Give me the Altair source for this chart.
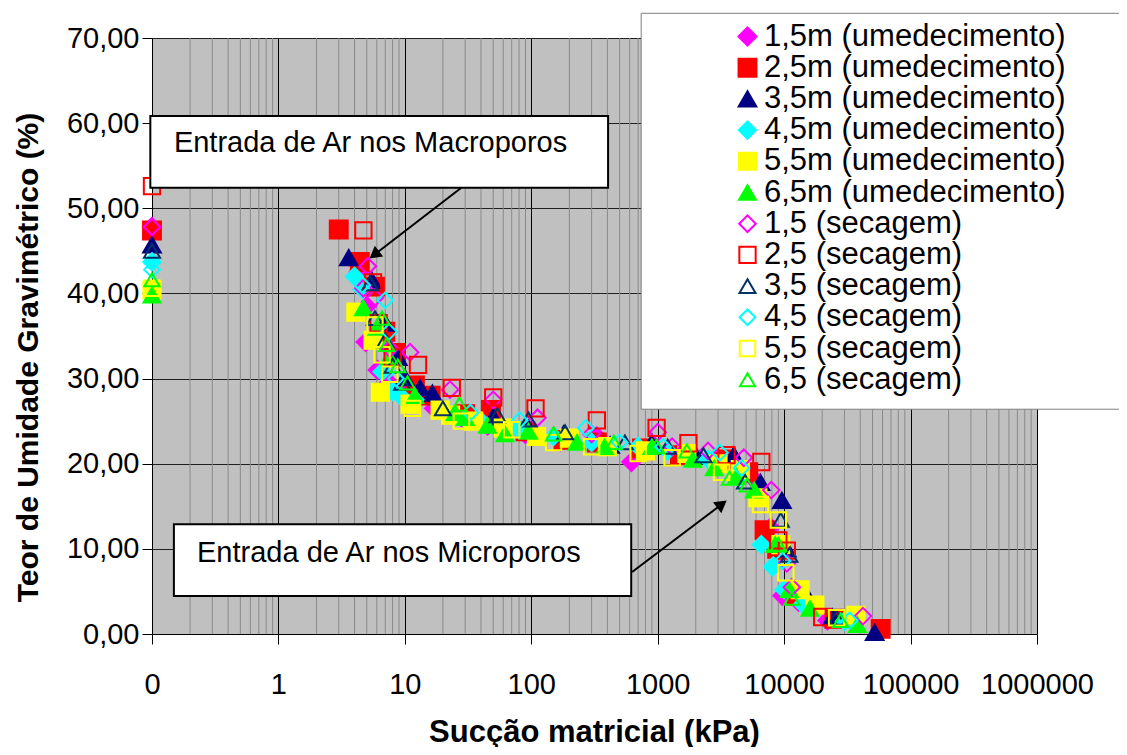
import altair as alt
import pandas as pd

# ---------------- data ----------------
labels = ["1,5m (umedecimento)", "2,5m (umedecimento)", "3,5m (umedecimento)",
          "4,5m (umedecimento)", "5,5m (umedecimento)", "6,5m (umedecimento)",
          "1,5 (secagem)", "2,5 (secagem)", "3,5 (secagem)",
          "4,5 (secagem)", "5,5 (secagem)", "6,5 (secagem)"]

s1_x = [0.1, 4.3, 5.0, 4.9, 6.1, 7.5, 10, 17, 28, 45, 90, 170, 330, 620, 1400, 3000, 5500, 7800, 9700, 13000, 22000]
s1_y = [47.8, 42.5, 38.5, 34.3, 31.0, 29.5, 28.5, 26.5, 25.5, 24.5, 23.5, 22.6, 23.2, 20.2, 21.0, 20.0, 18.5, 12.5, 4.5, 3.8, 1.6]
s2_x = [0.1, 3.0, 4.4, 5.8, 7.0, 8.5, 12, 16, 30, 48, 90, 180, 330, 750, 1500, 3300, 5200, 7000, 8800, 12500, 25000, 58000]
s2_y = [47.4, 47.5, 43.7, 40.8, 35.5, 33.0, 29.2, 28.0, 25.8, 26.3, 23.8, 22.8, 22.5, 21.8, 21.0, 20.5, 19.0, 12.2, 10.0, 4.5, 1.8, 0.6]
s3_x = [0.1, 3.6, 5.5, 7.0, 8.8, 10, 13.2, 16.5, 50, 95, 180, 420, 900, 2000, 4000, 6500, 9600, 10500, 15000, 24000, 52000]
s3_y = [45.7, 44.2, 41.5, 36.5, 32.5, 30.1, 28.9, 28.3, 25.5, 24.2, 23.5, 22.2, 22.5, 21.0, 21.0, 17.8, 15.7, 10.0, 4.6, 2.0, 0.2]
s4_x = [0.1, 4.0, 4.6, 6.6, 8.0, 9.5, 12, 22, 40, 80, 150, 300, 700, 1200, 2500, 4500, 6600, 8200, 10000, 14000, 30000]
s4_y = [43.7, 42.0, 40.5, 30.8, 28.5, 27.8, 27.5, 25.8, 25.0, 24.0, 23.2, 22.5, 22.0, 21.5, 20.5, 18.5, 10.5, 8.0, 5.2, 3.5, 1.5]
s5_x = [0.1, 4.1, 5.6, 6.4, 11, 19, 23, 35, 60, 110, 200, 400, 800, 1700, 3000, 4500, 6200, 9400, 13400, 17500, 37000]
s5_y = [40.4, 37.8, 34.5, 28.4, 27.0, 26.3, 25.7, 25.0, 24.2, 23.2, 23.0, 22.0, 21.5, 21.2, 20.0, 19.3, 16.0, 10.5, 5.2, 3.4, 2.2]
s6_x = [0.1, 4.7, 6.0, 7.5, 12, 25, 30, 45, 62, 95, 230, 380, 900, 1900, 2800, 4200, 5800, 8500, 11000, 16000, 38000]
s6_y = [39.8, 38.3, 36.0, 32.5, 28.0, 26.0, 25.4, 24.5, 23.5, 23.8, 22.5, 22.0, 22.0, 20.5, 19.5, 18.5, 16.9, 10.5, 5.2, 3.0, 1.1]
s7_x = [0.1, 5.1, 4.7, 5.8, 7.6, 11, 22.8, 50, 112, 300, 1000, 1300, 2500, 4800, 7900, 10500, 11500, 42000]
s7_y = [47.8, 43.2, 40.6, 39.5, 33.5, 33.1, 28.7, 27.5, 25.4, 23.5, 23.7, 22.0, 21.5, 20.7, 16.9, 8.3, 5.5, 2.1]
s8_x = [0.1, 4.7, 5.6, 6.2, 8.0, 12.7, 23.5, 50, 108, 330, 980, 1750, 3500, 6600, 9000, 10500, 20000]
s8_y = [52.6, 47.4, 41.3, 36.5, 32.5, 31.6, 28.9, 27.8, 26.5, 25.1, 24.2, 22.4, 21.0, 20.2, 11.0, 9.8, 2.0]
s9_x = [0.1, 5.3, 5.8, 7.0, 8.0, 9.5, 20, 54, 95, 185, 550, 1200, 2300, 4900, 9400, 11000, 26000]
s9_y = [45.0, 41.2, 37.1, 34.5, 31.5, 29.5, 26.5, 25.7, 25.2, 23.7, 22.5, 22.0, 21.0, 17.9, 13.4, 9.3, 1.9]
s10_x = [0.1, 4.6, 7.0, 7.5, 8.5, 33, 81, 270, 500, 1100, 3100, 4600, 8100, 9700, 33000]
s10_y = [42.8, 41.0, 39.2, 35.5, 30.0, 26.0, 25.1, 24.2, 22.5, 22.0, 21.3, 19.5, 7.8, 8.6, 1.6]
s11_x = [0.1, 5.8, 6.6, 7.6, 11.5, 28, 70, 150, 300, 700, 1300, 3200, 6500, 9000, 10300, 26000]
s11_y = [40.6, 36.3, 32.8, 30.5, 26.5, 25.0, 24.0, 22.5, 22.0, 21.2, 20.7, 19.0, 15.2, 13.4, 7.2, 1.9]
s12_x = [0.1, 6.6, 7.2, 8.8, 10.5, 27, 150, 450, 980, 1700, 3700, 5100, 9000, 11500, 28000]
s12_y = [41.6, 37.1, 34.0, 31.5, 29.5, 27.0, 23.5, 22.5, 22.0, 21.5, 18.3, 17.5, 10.5, 4.2, 1.6]

series_x = [s1_x, s2_x, s3_x, s4_x, s5_x, s6_x, s7_x, s8_x, s9_x, s10_x, s11_x, s12_x]
series_y = [s1_y, s2_y, s3_y, s4_y, s5_y, s6_y, s7_y, s8_y, s9_y, s10_y, s11_y, s12_y]

x_ticks = [0.1, 1, 10, 100, 1000, 10000, 100000, 1000000]
y_ticks = [0, 10, 20, 30, 40, 50, 60, 70]
minor_ticks = [m * d for d in [0.1, 1, 10, 100, 1000, 10000, 100000] for m in range(2, 10)]

annot_text = ["Entrada de Ar nos Macroporos", "Entrada de Ar nos Microporos"]

X_TITLE = "Sucção matricial (kPa)"
Y_TITLE = "Teor de Umidade Gravimétrico (%)"

# ---------------- styles ----------------
strokes = ["#FF00FF", "#FF0000", "#000080", "#00FFFF", "#FFFF00", "#00FF00",
           "#FF00FF", "#FF0000", "#003366", "#00FFFF", "#FFFF00", "#00FF00"]
fills = strokes[:6] + ["transparent"] * 6
shapes = ["diamond", "square", "triangle-up"] * 4
sizes = [330, 230, 330] * 4

FONT = "Liberation Sans"

rows = []
k = 0
for lab, xs, ys in zip(labels, series_x, series_y):
    for xv, yv in zip(xs, ys):
        rows.append({"suc": xv, "w": yv, "serie": lab, "idx": k})
        k += 1
df = pd.DataFrame(rows)

xscale = alt.Scale(type="log", domain=[0.1, 1000000])
yscale = alt.Scale(domain=[0, 70])

xaxis = alt.Axis(values=x_ticks, grid=True, gridColor="#000000", gridWidth=1,
                 labelExpr="datum.value < 1 ? '0' : format(datum.value, 'd')",
                 labelFlush=False, labelOverlap=False, labelBound=False,
                 labelPadding=26, titleX=442, titleY=98, titleFontSize=31,
                 titleBaseline="middle", titleAlign="center")
yaxis = alt.Axis(values=y_ticks, grid=True, gridColor="#202020", gridWidth=1,
                 labelExpr="replace(format(datum.value, '.2f'), '.', ',')",
                 labelFlush=False, labelOverlap=False, labelBound=False,
                 labelPadding=3, titleX=-124, titleY=319, titleFontSize=30,
                 titleBaseline="middle", titleAlign="center")


def X(field):
    return alt.X(field, scale=xscale, axis=xaxis, title=X_TITLE)


def Y(field):
    return alt.Y(field, scale=yscale, axis=yaxis, title=Y_TITLE)


minor = alt.Chart(pd.DataFrame({"v": minor_ticks, "y0": 0, "y1": 70})).mark_rule(
    color="#8a8a8a", strokeWidth=1
).encode(x=X("v:Q"), y=Y("y0:Q"), y2="y1:Q")

leg = alt.Legend(title=None, orient="none", legendX=580, legendY=-17,
                 labelFont=FONT, labelFontSize=31, labelColor="black",
                 symbolStrokeWidth=2, labelOffset=1, rowPadding=-0.8, padding=0,
                 labelLimit=600)

points = alt.Chart(df).mark_point(strokeWidth=2, opacity=1, fillOpacity=1).encode(
    x=X("suc:Q"),
    y=Y("w:Q"),
    shape=alt.Shape("serie:N", scale=alt.Scale(domain=labels, range=shapes), legend=leg),
    fill=alt.Fill("serie:N", scale=alt.Scale(domain=labels, range=fills), legend=leg),
    stroke=alt.Stroke("serie:N", scale=alt.Scale(domain=labels, range=strokes), legend=leg),
    size=alt.Size("serie:N", scale=alt.Scale(domain=labels, range=sizes), legend=leg),
    order=alt.Order("idx:Q"),
)

boxes_df = pd.DataFrame({"x1": [0.097, 0.149], "x2": [405, 617],
                         "y1": [52.4, 4.46], "y2": [60.84, 12.9]})
boxes = alt.Chart(boxes_df).mark_rect(fill="white", stroke="black", strokeWidth=2).encode(
    x=X("x1:Q"), x2="x2:Q", y=Y("y1:Q"), y2="y2:Q",
)

text_df = pd.DataFrame({"x": [0.149, 0.227], "y": [57.7, 9.5], "t": annot_text})
texts = alt.Chart(text_df).mark_text(align="left", baseline="middle", font=FONT,
                                     fontSize=29, color="black").encode(
    x=X("x:Q"), y=Y("y:Q"), text="t:N",
)

arrow_df = pd.DataFrame({"x1": [27.8, 627], "y1": [52.38, 7.28],
                         "x2": [5.73, 3220], "y2": [44.54, 15.25],
                         "ang": [232.4, 52.9]})
arrow_lines = alt.Chart(arrow_df).mark_rule(color="black", strokeWidth=2).encode(
    x=X("x1:Q"), x2="x2:Q", y=Y("y1:Q"), y2="y2:Q",
)
arrow_heads = alt.Chart(arrow_df).mark_point(shape="triangle-up", filled=True, color="black",
                                             size=190, opacity=1).encode(
    x=X("x2:Q"), y=Y("y2:Q"),
    angle=alt.Angle("ang:Q", scale=None),
)

legbox_df = pd.DataFrame({"x1": [740], "x2": [1e9], "y1": [26.4], "y2": [72.9]})
legbox = alt.Chart(legbox_df).mark_rect(fill="white", stroke="#7f7f7f", strokeWidth=1).encode(
    x=X("x1:Q"), x2="x2:Q", y=Y("y1:Q"), y2="y2:Q",
)

chart = alt.layer(minor, points, boxes, texts, arrow_lines, arrow_heads, legbox).properties(
    width=885, height=596,
    autosize=alt.AutoSizeParams(type="none"),
    padding={"left": 144, "top": 30, "right": 82, "bottom": 113},
    background="white",
).configure_view(
    fill="#C0C0C0", strokeWidth=0
).configure_axis(
    domainColor="black", domainWidth=1, tickColor="black", tickSize=10, tickWidth=1,
    labelFont=FONT, labelFontSize=29, labelColor="black",
    titleFont=FONT, titleFontWeight="bold", titleColor="black",
)

chart.save("out.html", embed_options={"renderer": "svg", "actions": False})
